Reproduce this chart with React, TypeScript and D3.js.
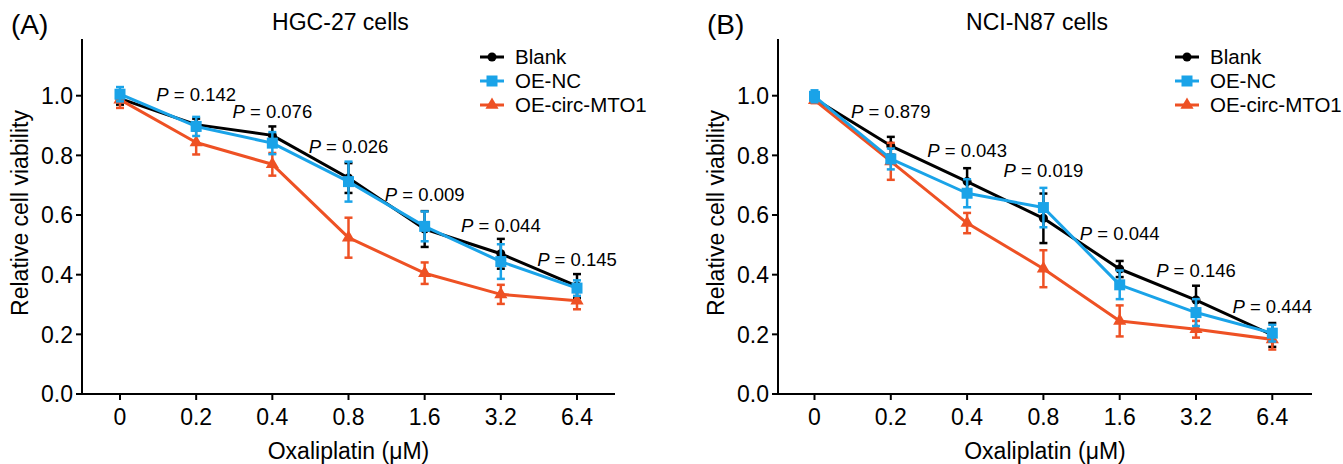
import React from "react";
import * as d3 from "d3";

const width = 1343;
const height = 464;

const doses = ["0", "0.2", "0.4", "0.8", "1.6", "3.2", "6.4"];
const yTicks = [0, 0.2, 0.4, 0.6, 0.8, 1.0];
const seriesNames = ["Blank", "OE-NC", "OE-circ-MTO1"];
const colors = ["#000000", "#1aa3e8", "#ee5124"];

// HGC-27
const hgcBlank = [0.99, 0.903, 0.867, 0.724, 0.553, 0.47, 0.362];
const hgcBlankSd = [0.02, 0.02, 0.03, 0.05, 0.06, 0.05, 0.04];
const hgcNc = [1.005, 0.897, 0.841, 0.712, 0.562, 0.444, 0.355];
const hgcNcSd = [0.024, 0.032, 0.037, 0.067, 0.05, 0.058, 0.026];
const hgcCirc = [0.987, 0.843, 0.77, 0.524, 0.405, 0.334, 0.313];
const hgcCircSd = [0.028, 0.04, 0.038, 0.067, 0.036, 0.032, 0.029];
const hgcP = ["0.142", "0.076", "0.026", "0.009", "0.044", "0.145"];
const hgcPy = [1.003, 0.947, 0.83, 0.668, 0.565, 0.45];

// NCI-N87
const nciBlank = [0.99, 0.832, 0.712, 0.589, 0.419, 0.315, 0.198];
const nciBlankSd = [0.01, 0.03, 0.045, 0.083, 0.027, 0.048, 0.04];
const nciNc = [0.998, 0.788, 0.673, 0.625, 0.366, 0.273, 0.204];
const nciNcSd = [0.02, 0.035, 0.047, 0.066, 0.048, 0.045, 0.028];
const nciCirc = [0.985, 0.78, 0.573, 0.42, 0.245, 0.217, 0.183];
const nciCircSd = [0.01, 0.062, 0.034, 0.062, 0.052, 0.028, 0.034];
const nciP = ["0.879", "0.043", "0.019", "0.044", "0.146", "0.444"];
const nciPy = [0.947, 0.816, 0.749, 0.54, 0.416, 0.293];

const font = "'Liberation Sans', Arial, Helvetica, sans-serif";

type PanelProps = {
  letter: string;
  title: string;
  axisX: number;
  firstX: number;
  lastX: number;
  axisEnd: number;
  legendX: number;
  values: number[][];
  sds: number[][];
  pvals: string[];
  pys: number[];
};

const Marker = ({ kind, x, y, color }: { kind: number; x: number; y: number; color: string }) => {
  if (kind === 0) return <circle cx={x} cy={y} r={4.5} fill={color} />;
  if (kind === 1) return <rect x={x - 5.5} y={y - 5.5} width={11} height={11} fill={color} />;
  const tri = d3.symbol().type(d3.symbolTriangle).size(75)();
  return <path d={tri || ""} transform={`translate(${x},${y})`} fill={color} />;
};

const Panel = (p: PanelProps) => {
  const top = 39;
  const bottom = 394;
  const x = d3.scalePoint<string>().domain(doses).range([p.firstX, p.lastX]);
  const y = d3.scaleLinear().domain([0, 1]).range([bottom, 95.7]);
  const line = d3.line<number>().x((_, i) => x(doses[i]) as number).y((d) => y(d));
  const order = [0, 2, 1];
  const midX = (p.axisX + p.axisEnd) / 2;

  return (
    <g fontFamily={font}>
      <text x={p.axisX - 71} y={34} fontSize={28}>{p.letter}</text>
      <text x={midX - 8} y={30} fontSize={23} textAnchor="middle">{p.title}</text>

      {/* axes */}
      <line x1={p.axisX} x2={p.axisX} y1={top} y2={bottom} stroke="#000" strokeWidth={2} />
      <line x1={p.axisX - 6} x2={p.axisEnd} y1={bottom} y2={bottom} stroke="#000" strokeWidth={2} />
      {yTicks.map((t) => (
        <g key={t}>
          <line x1={p.axisX - 6} x2={p.axisX} y1={y(t)} y2={y(t)} stroke="#000" strokeWidth={2} />
          <text x={p.axisX - 9} y={y(t)} dy="0.36em" fontSize={23} textAnchor="end">{t.toFixed(1)}</text>
        </g>
      ))}
      {doses.map((d) => (
        <g key={d}>
          <line x1={x(d)} x2={x(d)} y1={bottom} y2={bottom + 6} stroke="#000" strokeWidth={2} />
          <text x={x(d)} y={425} fontSize={23} textAnchor="middle">{d}</text>
        </g>
      ))}
      <text x={midX} y={459} fontSize={23} textAnchor="middle">Oxaliplatin (μM)</text>
      <text
        transform={`translate(${p.axisX - 54},213) rotate(-90)`}
        fontSize={23}
        textAnchor="middle"
      >
        Relative cell viability
      </text>

      {/* series */}
      {order.map((s) => (
        <g key={s}>
          <path d={line(p.values[s]) || ""} fill="none" stroke={colors[s]} strokeWidth={3} strokeLinejoin="round" />
          {p.values[s].map((v, i) => {
            const cx = x(doses[i]) as number;
            const hi = y(v + p.sds[s][i]);
            const lo = y(v - p.sds[s][i]);
            return (
              <g key={i} stroke={colors[s]} strokeWidth={2.5}>
                <line x1={cx} x2={cx} y1={hi} y2={lo} />
                <line x1={cx - 4} x2={cx + 4} y1={hi} y2={hi} />
                <line x1={cx - 4} x2={cx + 4} y1={lo} y2={lo} />
              </g>
            );
          })}
          {p.values[s].map((v, i) => (
            <Marker key={i} kind={s} x={x(doses[i]) as number} y={y(v)} color={colors[s]} />
          ))}
        </g>
      ))}

      {/* P values */}
      {p.pvals.map((pv, i) => (
        <text key={i} x={x(doses[i + 1])} y={y(p.pys[i])} dy="0.36em" fontSize={18.5} textAnchor="middle">
          <tspan fontStyle="italic">P</tspan> = {pv}
        </text>
      ))}

      {/* legend */}
      {seriesNames.map((n, i) => {
        const ly = 57 + i * 24;
        return (
          <g key={n}>
            <line x1={p.legendX} x2={p.legendX + 24} y1={ly} y2={ly} stroke={colors[i]} strokeWidth={3} />
            <Marker kind={i} x={p.legendX + 12} y={ly} color={colors[i]} />
            <text x={p.legendX + 35} y={ly} dy="0.36em" fontSize={20.5}>{n}</text>
          </g>
        );
      })}
    </g>
  );
};

export default function App() {
  return (
    <svg
      width={width}
      height={height}
      viewBox={`0 0 ${width} ${height}`}
      style={{ position: "absolute", left: 0, top: 0, background: "#fff" }}
    >
      <Panel
        letter="(A)"
        title="HGC-27 cells"
        axisX={82}
        firstX={120}
        lastX={577}
        axisEnd={615}
        legendX={480}
        values={[hgcBlank, hgcNc, hgcCirc]}
        sds={[hgcBlankSd, hgcNcSd, hgcCircSd]}
        pvals={hgcP}
        pys={hgcPy}
      />
      <Panel
        letter="(B)"
        title="NCI-N87 cells"
        axisX={778}
        firstX={814.5}
        lastX={1272.3}
        axisEnd={1312}
        legendX={1175}
        values={[nciBlank, nciNc, nciCirc]}
        sds={[nciBlankSd, nciNcSd, nciCircSd]}
        pvals={nciP}
        pys={nciPy}
      />
    </svg>
  );
}
